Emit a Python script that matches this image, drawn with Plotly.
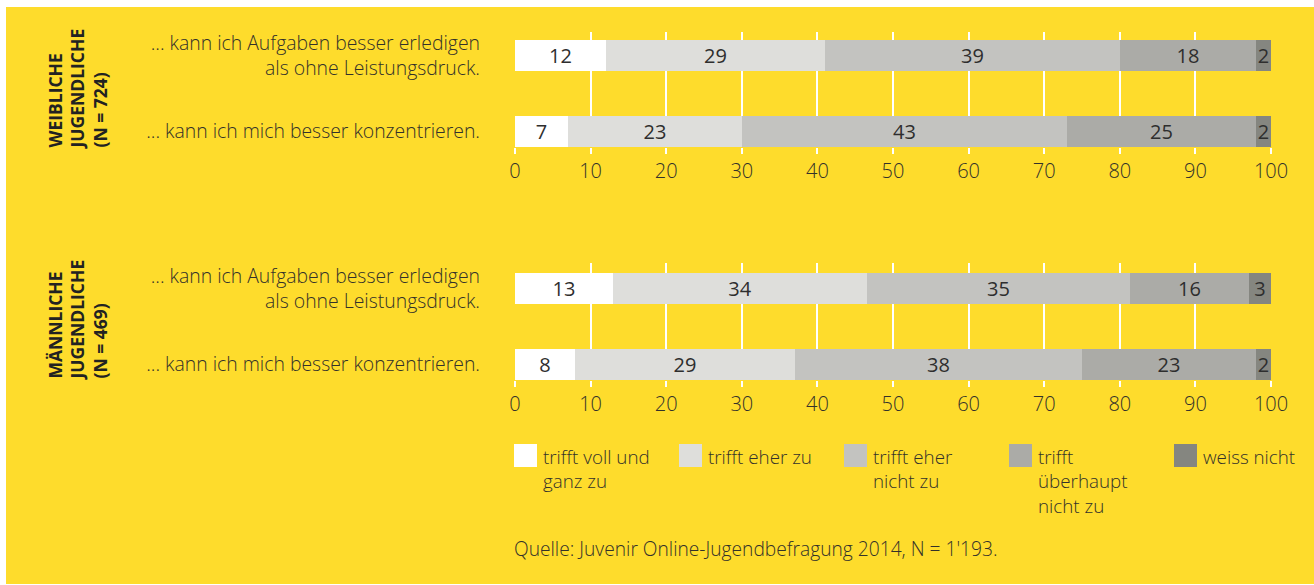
import plotly.graph_objects as go

# ---------------- data ----------------
questions = [
    "... kann ich Aufgaben besser erledigen<br>als ohne Leistungsdruck.",
    "... kann ich mich besser konzentrieren.",
]
answers = [
    "trifft voll und<br>ganz zu",
    "trifft eher zu",
    "trifft eher<br>nicht zu",
    "trifft<br>überhaupt<br>nicht zu",
    "weiss nicht",
]
# values per answer category, for [Aufgaben, konzentrieren]
weiblich_voll = [12, 7]
weiblich_eher_zu = [29, 23]
weiblich_eher_nicht = [39, 43]
weiblich_ueberhaupt_nicht = [18, 25]
weiblich_weiss_nicht = [2, 2]

maennlich_voll = [12.9, 8]
maennlich_eher_zu = [33.6, 29]
maennlich_eher_nicht = [34.8, 38]
maennlich_ueberhaupt_nicht = [15.8, 23]
maennlich_weiss_nicht = [2.9, 2]

groups = ["WEIBLICHE<br>JUGENDLICHE<br>(N = 724)", "MÄNNLICHE<br>JUGENDLICHE<br>(N = 469)"]
x_ticks = [0, 10, 20, 30, 40, 50, 60, 70, 80, 90, 100]
source = "Quelle: Juvenir Online-Jugendbefragung 2014, N = 1'193."

# ---------------- style ----------------
W, H = 1314, 585
YELLOW = "#FEDC2C"
colors = ["#FFFFFF", "#DEDEDB", "#C3C3C0", "#ABABA7", "#858680"]
TXT = "#33312a"
FONT = "Open Sans"


def px_x(p):
    return p / W


def px_y(p):
    return 1 - p / H


weiblich = [weiblich_voll, weiblich_eher_zu, weiblich_eher_nicht,
            weiblich_ueberhaupt_nicht, weiblich_weiss_nicht]
maennlich = [maennlich_voll, maennlich_eher_zu, maennlich_eher_nicht,
             maennlich_ueberhaupt_nicht, maennlich_weiss_nicht]

fig = go.Figure()

for series, xa, ya in [(weiblich, "x", "y"), (maennlich, "x2", "y2")]:
    for i, vals in enumerate(series):
        fig.add_trace(go.Bar(
            x=vals, y=questions, orientation="h",
            xaxis=xa, yaxis=ya,
            name=answers[i].replace("<br>", " "),
            marker=dict(color=colors[i], line=dict(width=0)),
            width=0.404,
            text=vals, texttemplate="%{x:.0f}",
            textposition="inside", insidetextanchor="middle",
            textangle=0, constraintext="none",
            textfont=dict(family=FONT, size=20, color="#2e2e2e"),
            hoverinfo="skip", showlegend=False,
        ))

xaxis_common = dict(
    range=[0, 100], tickvals=x_ticks, showgrid=True, gridcolor="white",
    gridwidth=1.5, zeroline=False, showline=False, automargin=False,
    ticks="outside", ticklen=6, tickwidth=1.5, tickcolor="white",
    tickfont=dict(family=FONT, size=20, color=TXT, weight=300),
    ticklabelstandoff=0,
    domain=[px_x(515), px_x(1271)], fixedrange=True,
)
yaxis_common = dict(
    categoryorder="array", categoryarray=questions[::-1],
    showgrid=False, zeroline=False, showline=False, ticks="", automargin=False,
    tickfont=dict(family=FONT, size=19.4, color=TXT, weight=300),
    ticklabelstandoff=34, fixedrange=True,
)

fig.update_layout(
    width=W, height=H,
    margin=dict(l=0, r=0, t=0, b=0, autoexpand=False),
    paper_bgcolor="white", plot_bgcolor="rgba(0,0,0,0)",
    barmode="stack", bargap=0,
    xaxis=dict(anchor="y", **xaxis_common),
    xaxis2=dict(anchor="y2", **xaxis_common),
    yaxis=dict(anchor="x", domain=[px_y(147), px_y(32)], range=[-0.205, 1.308], **yaxis_common),
    yaxis2=dict(anchor="x2", domain=[px_y(380), px_y(263)], range=[-0.205, 1.334], **yaxis_common),
)

shapes = [dict(type="rect", xref="paper", yref="paper",
               x0=px_x(6), x1=1.0, y0=px_y(584), y1=px_y(7),
               fillcolor=YELLOW, line=dict(width=0), layer="below")]
annotations = []

# group labels (rotated)
for g, yc in zip(groups, [89.5, 320.5]):
    annotations.append(dict(
        text=g, xref="paper", yref="paper", x=px_x(77), y=px_y(yc),
        xanchor="center", yanchor="middle", textangle=-90, align="left",
        showarrow=False, font=dict(family=FONT, size=17.5, color="#222222", weight=700),
    ))

# legend
for i, lab in enumerate(answers):
    x0 = 514 + 165 * i
    shapes.append(dict(type="rect", xref="paper", yref="paper",
                       x0=px_x(x0), x1=px_x(x0 + 23), y0=px_y(467), y1=px_y(444),
                       fillcolor=colors[i], line=dict(width=0), layer="above"))
    annotations.append(dict(
        text=lab, xref="paper", yref="paper", x=px_x(x0 + 27), y=px_y(442),
        xanchor="left", yanchor="top", align="left", showarrow=False,
        font=dict(family=FONT, size=18.8, color=TXT, weight=300),
    ))

annotations.append(dict(
    text=source, xref="paper", yref="paper", x=px_x(512), y=px_y(548),
    xanchor="left", yanchor="middle", showarrow=False,
    font=dict(family=FONT, size=19.2, color=TXT, weight=300),
))

fig.update_layout(shapes=shapes, annotations=annotations)
fig.write_html(
    "out.html",
    config={"displayModeBar": False},
    post_script="document.body.style.margin='0';document.body.style.overflow='hidden';",
)
